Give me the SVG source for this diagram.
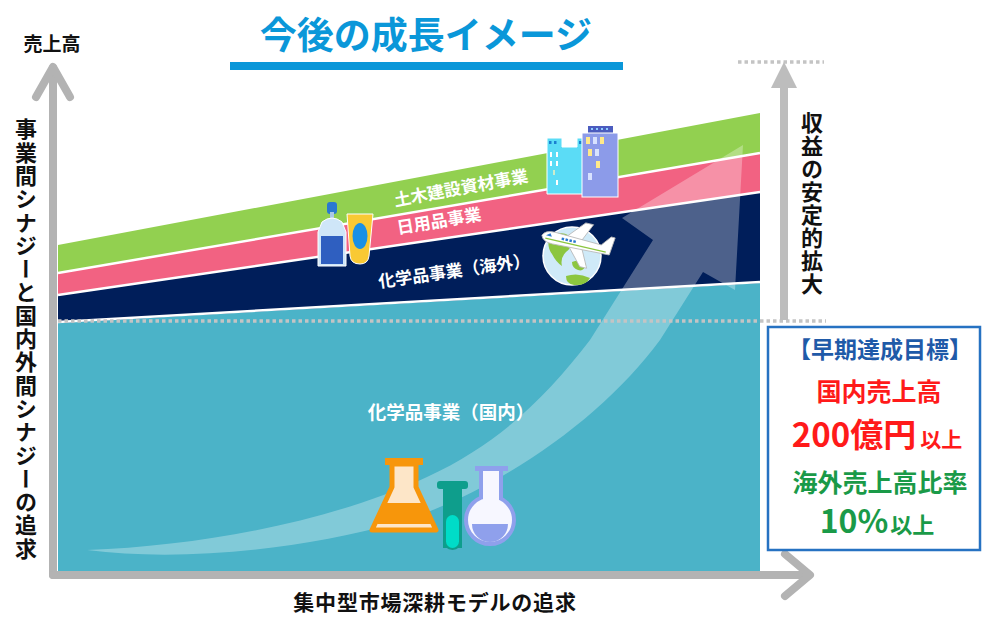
<svg xmlns="http://www.w3.org/2000/svg" width="982" height="617" viewBox="0 0 982 617">
  <style>
    text { font-family: "Noto Sans CJK JP", "Noto Sans", sans-serif; font-weight: 700; }
    .axis { stroke: #b3b3b3; stroke-width: 8; fill: none; stroke-linecap: round; stroke-linejoin: round; }
    .sep { stroke: #ffffff; stroke-width: 2.5; fill: none; }
    .dots { stroke: #c4c4c4; stroke-width: 3.5; stroke-dasharray: 3.5 3; fill: none; }
    .band-label { fill: #ffffff; text-anchor: middle; }
    .vert { writing-mode: vertical-rl; fill: #111111; font-size: 22px; }
    .box-line { text-anchor: middle; }
  </style>

  <rect width="982" height="617" fill="#ffffff"/>

  <!-- title -->
  <g id="title">
    <text x="426" y="49" font-size="37" fill="#0a97d9" text-anchor="middle">今後の成長イメージ</text>
    <rect x="230" y="62" width="393" height="8" fill="#0a97d9"/>
  </g>

  <!-- stacked business bands -->
  <g id="bands">
    <polygon points="58,245 760,113 760,572 58,572" fill="#92d050"/>
    <polygon points="58,273 760,153 760,572 58,572" fill="#f26282"/>
    <polygon points="58,295 760,192 760,572 58,572" fill="#001e5a"/>
    <polygon points="58,323 760,283 760,572 58,572" fill="#4bb3c8"/>
    <polyline class="sep" points="58,273 760,153"/>
    <polyline class="sep" points="58,295 760,192"/>
    <polyline class="sep" points="58,322 760,282"/>
  </g>

  <!-- sweeping growth arrow -->
  <g id="growth-arrow">
    <path d="M87,550 C200,546 330,522 427,477 C500,443 545,398 590,340 L653,240 L622,218 L743,145 L735,290 L703,272 L660,340 C605,415 505,488 400,522 C300,550 180,562 87,550 Z" fill="#ffffff" fill-opacity="0.3"/>
  </g>

  <!-- dotted guide lines -->
  <g id="guides">
    <line class="dots" x1="58" y1="321" x2="826" y2="321"/>
    <line class="dots" x1="738" y1="62" x2="824" y2="62"/>
  </g>

  <!-- axes -->
  <g id="axes">
    <line class="axis" x1="53" y1="68" x2="53" y2="575"/>
    <polyline class="axis" points="36,97 53,67 70,97"/>
    <line class="axis" x1="53" y1="575" x2="808" y2="575"/>
    <polyline class="axis" points="785,554 810,575 785,596"/>
    <line x1="784" y1="86" x2="784" y2="320" stroke="#bdbdbd" stroke-width="8"/>
    <polygon points="784,62 771,88 797,88" fill="#bdbdbd"/>
  </g>

  <!-- axis labels -->
  <g id="axis-labels">
    <text x="52" y="51" font-size="19" fill="#111111" text-anchor="middle">売上高</text>
    <text class="vert" x="26" y="118" letter-spacing="1.3">事業間シナジーと国内外間シナジーの追求</text>
    <text class="vert" x="812" y="112" letter-spacing="1">収益の安定的拡大</text>
    <text x="435" y="610" font-size="21" letter-spacing="0.8" fill="#111111" text-anchor="middle">集中型市場深耕モデルの追求</text>
  </g>

  <!-- band labels -->
  <g id="label-civil">
    <text class="band-label" style="font-size:17px" transform="translate(462,194) rotate(-10.5)">土木建設資材事業</text>
  </g>
  <g id="label-daily">
    <text class="band-label" style="font-size:17px" transform="translate(440,227) rotate(-9.5)">日用品事業</text>
  </g>
  <g id="label-overseas">
    <text class="band-label" style="font-size:17px" transform="translate(455,277) rotate(-8)">化学品事業（海外）</text>
  </g>
  <g id="label-domestic">
    <text class="band-label" style="font-size:18.5px" x="451" y="419">化学品事業（国内）</text>
  </g>

  <!-- buildings icon -->
  <g id="icon-buildings">
    <polygon points="547,138 562,138 562,147 577,147 577,138 584,138 584,194 547,194" fill="#5bdcf6" stroke="#ffffff" stroke-width="1"/>
    <rect x="549" y="141" width="2.5" height="3" fill="#1a7fd0"/>
    <rect x="554" y="141" width="2.5" height="3" fill="#1a7fd0"/>
    <rect x="579" y="141" width="2.5" height="3" fill="#1a7fd0"/>
    <rect x="550" y="152" width="2" height="5" fill="#ffffff"/>
    <rect x="556" y="152" width="2" height="5" fill="#ffffff"/>
    <rect x="550" y="161" width="2" height="5" fill="#ffffff"/>
    <rect x="556" y="161" width="2" height="5" fill="#ffffff"/>
    <rect x="553" y="170" width="2" height="5" fill="#cdeccd"/>
    <rect x="556" y="180" width="2" height="5" fill="#ffffff"/>
    <rect x="588" y="126" width="25" height="7" fill="#4b5cbf"/>
    <rect x="591" y="128" width="2" height="2" fill="#8fd0ff"/>
    <rect x="596" y="128" width="2" height="2" fill="#8fd0ff"/>
    <rect x="601" y="128" width="2" height="2" fill="#8fd0ff"/>
    <rect x="606" y="128" width="2" height="2" fill="#8fd0ff"/>
    <rect x="582" y="133" width="36" height="64" fill="#8c9be9" stroke="#ffffff" stroke-width="1"/>
    <rect x="586" y="137" width="4" height="7" fill="#ffe98a"/>
    <rect x="593" y="137" width="4" height="7" fill="#d8e2ff"/>
    <rect x="600" y="137" width="4" height="7" fill="#ffe98a"/>
    <rect x="588" y="149" width="4" height="7" fill="#ffe98a"/>
    <rect x="595" y="149" width="4" height="7" fill="#d8e2ff"/>
    <rect x="596" y="161" width="4" height="7" fill="#ffe98a"/>
    <rect x="588" y="173" width="4" height="7" fill="#d8e2ff"/>
  </g>

  <!-- bottles icon -->
  <g id="icon-bottles">
    <rect x="327" y="202" width="10" height="12" rx="3" fill="#2a78d0"/>
    <rect x="330" y="212" width="4" height="8" fill="#aac8e8"/>
    <path d="M322,222 Q332,214 342,222 L346,232 L346,266 L318,266 L318,232 Z" fill="#cfe6f8" stroke="#ffffff" stroke-width="1"/>
    <rect x="321" y="236" width="22" height="28" fill="#2f5fc0"/>
    <path d="M347,214 L373,214 L369,256 Q368,264 360,264 Q351,264 350,256 Z" fill="#f9c934" stroke="#ffffff" stroke-width="1"/>
    <ellipse cx="360" cy="236" rx="7.5" ry="13" fill="#1a90e6"/>
  </g>

  <!-- globe and plane icon -->
  <g id="icon-globe">
    <circle cx="572" cy="256" r="29" fill="#cfeaf8" stroke="#ffffff" stroke-width="1.5"/>
    <path d="M550,236 Q560,230 570,236 Q575,245 566,252 Q560,258 562,266 Q556,262 552,254 Q546,246 550,236 Z" fill="#8cc63f"/>
    <path d="M572,262 Q580,258 586,264 Q584,272 578,270 Q572,268 572,262 Z" fill="#8cc63f"/>
    <path d="M566,276 Q578,272 590,278 Q586,286 574,285 Q566,284 566,276 Z" fill="#8cc63f"/>
    <g transform="translate(575,243) rotate(13)">
      <path d="M-10,-4 L6,-22 L14,-22 L6,-4 Z" fill="#ffffff" stroke="#b8b8b8" stroke-width="0.8"/>
      <path d="M-6,4 L10,22 L17,22 L8,4 Z" fill="#ffffff" stroke="#b8b8b8" stroke-width="0.8"/>
      <path d="M-34,0 Q-32,-6 -22,-6 L26,-4 L34,-14 L38,-14 L36,4 L-22,6 Q-32,6 -34,0 Z" fill="#ffffff" stroke="#b8b8b8" stroke-width="0.8"/>
      <path d="M-30,-1 L-26,-4 L-24,-1 Z" fill="#2a78d0"/>
      <rect x="-14" y="-2.5" width="2.5" height="2.5" fill="#2a78d0"/>
      <rect x="-10" y="-2.5" width="2.5" height="2.5" fill="#2a78d0"/>
      <rect x="-6" y="-2.5" width="2.5" height="2.5" fill="#2a78d0"/>
      <rect x="-2" y="-2.5" width="2.5" height="2.5" fill="#2a78d0"/>
      <line x1="-30" y1="2" x2="32" y2="2" stroke="#8cc63f" stroke-width="1.2"/>
    </g>
  </g>

  <!-- lab glassware icon -->
  <g id="icon-flasks">
    <path d="M392,464 L416,464 L416,487 L436,530 L372,530 L392,487 Z" fill="#fde6c8" stroke="#f7960b" stroke-width="5" stroke-linejoin="round"/>
    <rect x="385" y="458" width="38" height="7" fill="#f7960b"/>
    <polygon points="384,503 424,503 431,524 377,524" fill="#f7960b"/>
    <rect x="443" y="486" width="19" height="62" fill="#0e9e8c"/>
    <rect x="443" y="532" width="19" height="18" rx="9.5" fill="#0e9e8c"/>
    <rect x="446" y="515" width="13" height="33" rx="6.5" fill="#00dcc8"/>
    <rect x="437" y="481" width="31" height="8" rx="3" fill="#0e9e8c"/>
    <rect x="481" y="469" width="20" height="30" fill="#f7f7ff" stroke="#8fa0ec" stroke-width="4"/>
    <circle cx="490" cy="520" r="24" fill="#f7f7ff" stroke="#8fa0ec" stroke-width="4"/>
    <rect x="483" y="492" width="16" height="10" fill="#f7f7ff"/>
    <path d="M472,524 L508,524 A18,18 0 0 1 472,524 Z" fill="#8fa0ec"/>
    <rect x="475" y="466" width="33" height="5" fill="#8fa0ec"/>
  </g>

  <!-- target box -->
  <g id="target-box">
    <rect x="768" y="327" width="212" height="223" fill="#ffffff" stroke="#2672c2" stroke-width="2.5"/>
    <text class="box-line" x="880" y="358" font-size="23" fill="#1f5aa8">【早期達成目標】</text>
    <text class="box-line" x="879" y="401" font-size="25" fill="#ff1a1a">国内売上高</text>
    <text class="box-line" x="877" y="447" fill="#ff1a1a"><tspan font-size="33">200億円</tspan><tspan font-size="21" dx="4">以上</tspan></text>
    <text class="box-line" x="880" y="492" font-size="25" fill="#1a9a48">海外売上高比率</text>
    <text class="box-line" x="877" y="533" fill="#1a9a48"><tspan font-size="32">10%</tspan><tspan font-size="22" dx="2">以上</tspan></text>
  </g>
</svg>
